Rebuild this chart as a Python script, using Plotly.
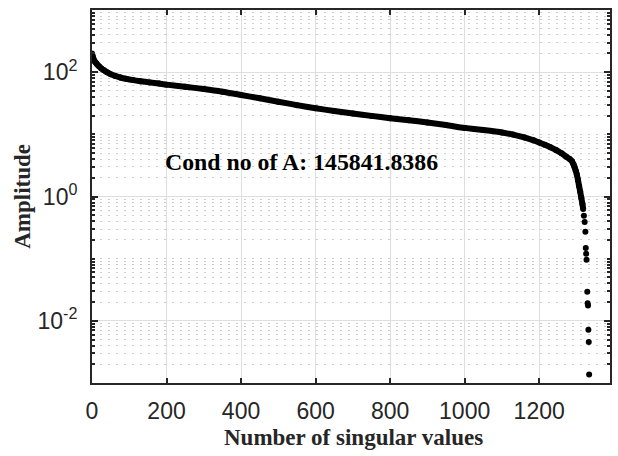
import plotly.graph_objects as go

# Singular values of A, ordered by index (continuous part of the spectrum)
idx_curve = [0, 2, 4, 7, 10, 14, 19, 25, 32, 40, 50, 62, 76, 92, 110, 130, 155,
             180, 200, 250, 300, 350, 400, 450, 500, 550, 600, 650, 700, 750,
             800, 850, 900, 950, 1000, 1050, 1100, 1130, 1160, 1185, 1200, 1215,
             1230, 1245, 1260, 1272, 1282, 1288, 1292, 1295, 1298, 1301, 1304,
             1307, 1310, 1313, 1316, 1318]
sv_curve = [200, 178, 163, 150, 142, 133, 124, 115, 107, 100, 93, 87, 82, 78,
            74.5, 71.5, 68.5, 65.5, 63, 58.2, 53.5, 48.5, 43, 38, 33.5, 29.5,
            26.3, 23.8, 21.6, 19.8, 18.2, 16.9, 15.5, 14.1, 12.7, 11.7, 10.7,
            9.9, 8.9, 8.0, 7.4, 6.8, 6.2, 5.6, 4.95, 4.4, 4.0, 3.7, 3.3, 2.95,
            2.6, 2.25, 1.85, 1.48, 1.2, 0.95, 0.76, 0.63]

# Smallest singular values (isolated points at the end of the spectrum)
idx_tail = [1320, 1322, 1324, 1325, 1326, 1327, 1329, 1330, 1331, 1332, 1333, 1334]
sv_tail = [0.49, 0.39, 0.27, 0.149, 0.12, 0.096, 0.0295, 0.0192, 0.0176,
           0.0072, 0.00457, 0.001371]

x_ticks = [0, 200, 400, 600, 800, 1000, 1200]
y_ticks = [1e-2, 1e0, 1e2]
y_ticktext = ["10<sup>-2</sup>", "10<sup>0</sup>", "10<sup>2</sup>"]
cond_label = "Cond no of A: 145841.8386"

# minor log ticks/grid: 1..9 x 10^n, skipping the labelled decades
y_minor = [k * 10.0 ** n for n in range(-3, 3) for k in range(1, 10)
           if not (k == 1 and n in (-2, 0, 2))]

axis_color = "rgb(38,38,38)"
tick_font = dict(family="Liberation Sans, Arial", size=23, color="rgb(38,38,38)")
label_font = dict(family="Liberation Serif, Times New Roman", size=23, color="rgb(38,38,38)")

fig = go.Figure()
fig.add_trace(go.Scatter(
    x=idx_curve, y=sv_curve, mode="lines+markers",
    line=dict(color="black", width=6, shape="spline", smoothing=0.6),
    marker=dict(color="black", size=6),
    showlegend=False, hoverinfo="skip",
))
fig.add_trace(go.Scatter(
    x=idx_tail, y=sv_tail, mode="markers",
    marker=dict(color="black", size=6),
    showlegend=False, hoverinfo="skip",
))

fig.update_layout(
    width=618, height=456,
    margin=dict(l=92, r=6, t=10, b=73),
    paper_bgcolor="white", plot_bgcolor="white",
    xaxis=dict(
        range=[0, 1390], tickvals=x_ticks, ticks="inside", ticklen=5,
        tickwidth=1.5, tickcolor=axis_color,
        showline=True, linecolor=axis_color, linewidth=2, mirror="allticks",
        showgrid=True, gridcolor="rgb(222,222,222)", gridwidth=1,
        zeroline=False, tickfont=tick_font, ticklabelstandoff=6,
    ),
    yaxis=dict(
        type="log", range=[-3, 3], tickvals=y_ticks, ticktext=y_ticktext,
        ticks="inside", ticklen=6, tickwidth=1.5, tickcolor=axis_color,
        showline=True, linecolor=axis_color, linewidth=2, mirror="allticks",
        showgrid=True, gridcolor="rgb(222,222,222)", gridwidth=1,
        zeroline=False, tickfont=tick_font, ticklabelstandoff=8,
        minor=dict(tickvals=y_minor, ticks="inside", ticklen=3, tickwidth=1.5,
                   tickcolor=axis_color, showgrid=True,
                   gridcolor="rgb(205,205,205)", griddash="2px,6px", gridwidth=1),
    ),
    annotations=[
        dict(text="<b>Number of singular values</b>", xref="paper", yref="paper",
             x=0.504, y=-0.145, xanchor="center", yanchor="middle",
             showarrow=False, font=label_font),
        dict(text="<b>Amplitude</b>", xref="paper", yref="paper",
             x=-0.1346, y=0.5, xanchor="center", yanchor="middle",
             textangle=-90, showarrow=False, font=label_font),
        dict(text="<b>" + cond_label + "</b>", xref="x", yref="y",
             x=561, y=0.555, xanchor="center", yanchor="middle",
             showarrow=False, font=dict(family="Liberation Serif, Times New Roman",
                                        size=23.8, color="black")),
    ],
)

fig.write_html("out.html")
